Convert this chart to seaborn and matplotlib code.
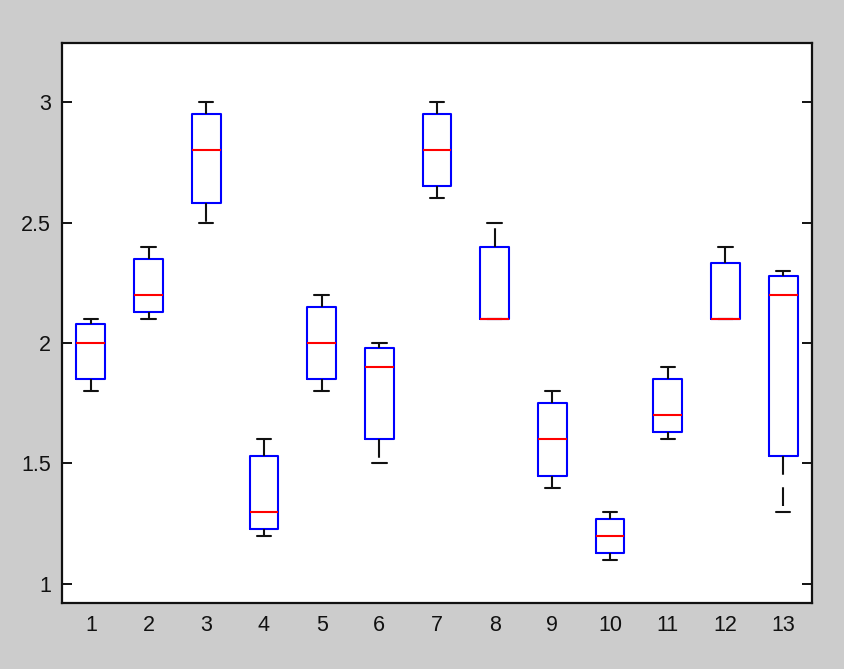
import numpy as np
import pandas as pd
import matplotlib
matplotlib.use("Agg")
import matplotlib.pyplot as plt
import seaborn as sns

# Five-number summaries for each of the 13 groups
groups = list(range(1, 14))
lows    = [1.80, 2.10, 2.50, 1.20, 1.80, 1.50, 2.60, 2.10, 1.40, 1.10, 1.60, 2.10, 1.30]
q1s     = [1.85, 2.13, 2.58, 1.23, 1.85, 1.60, 2.65, 2.10, 1.45, 1.13, 1.63, 2.10, 1.53]
medians = [2.00, 2.20, 2.80, 1.30, 2.00, 1.90, 2.80, 2.10, 1.60, 1.20, 1.70, 2.10, 2.20]
q3s     = [2.08, 2.35, 2.95, 1.53, 2.15, 1.98, 2.95, 2.40, 1.75, 1.27, 1.85, 2.33, 2.28]
highs   = [2.10, 2.40, 3.00, 1.60, 2.20, 2.00, 3.00, 2.50, 1.80, 1.30, 1.90, 2.40, 2.30]
yticks = [1, 1.5, 2, 2.5, 3]
ytick_labels = ["1", "1.5", "2", "2.5", "3"]

# Five observations per group reproduce these quartiles exactly
rows = []
for g, a, b, c, d, e in zip(groups, lows, q1s, medians, q3s, highs):
    for v in (a, b, c, d, e):
        rows.append({"group": g, "value": v})
df = pd.DataFrame(rows)

sns.set_style("white")
plt.rcParams["font.family"] = ["Liberation Sans", "DejaVu Sans"]

fig = plt.figure(figsize=(8.44, 6.69), dpi=100, facecolor="#cccccc")
ax = fig.add_axes([0.0735, 0.0987, 0.8885, 0.837])
ax.set_facecolor("white")

lw = 1.5
sns.boxplot(
    data=df, x="group", y="value", ax=ax, width=0.5, whis=1.5,
    fill=False, showfliers=False, native_scale=True,
    boxprops=dict(color="#0000ff", linewidth=lw),
    medianprops=dict(color="#ff0000", linewidth=lw),
    whiskerprops=dict(color="#111111", linewidth=lw, linestyle=(0, (9, 6))),
    capprops=dict(color="#111111", linewidth=lw),
    capwidths=0.25,
)

ax.set_xlim(0.5, 13.5)
ax.set_ylim(0.921, 3.245)
ax.set_xticks(groups)
ax.set_xticklabels([str(g) for g in groups])
ax.set_yticks(yticks)
ax.set_yticklabels(ytick_labels)
ax.set_xlabel("")
ax.set_ylabel("")

ax.tick_params(axis="x", length=0, pad=9, labelsize=15.5, colors="#111111")
ax.tick_params(axis="y", direction="in", length=7, width=1.4, left=True, right=True,
               pad=8, labelsize=15.5, colors="#111111")
for side in ("left", "right", "top", "bottom"):
    ax.spines[side].set_visible(True)
    ax.spines[side].set_color("#111111")
    ax.spines[side].set_linewidth(1.6)

fig.savefig("out.png", dpi=100, facecolor=fig.get_facecolor())
